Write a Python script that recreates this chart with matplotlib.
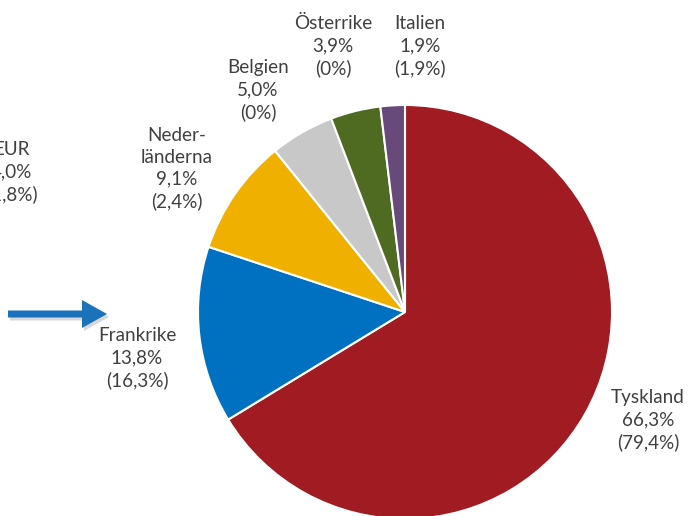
import matplotlib
matplotlib.use("Agg")
import matplotlib.pyplot as plt
from matplotlib.patches import FancyArrow

# data
countries = ['Tyskland', 'Frankrike', 'Neder-\nländerna', 'Belgien', 'Österrike', 'Italien']
shares = [66.3, 13.8, 9.1, 5.0, 3.9, 1.9]
shares_2 = ['79,4%', '16,3%', '2,4%', '0%', '0%', '1,9%']
colors = ['#A01C22', '#0070C0', '#F0B000', '#C8C8C8', '#4F6B22', '#67497A']

# label centres in pixel coords (x, y from top)
label_pos = [(648, 420), (137, 358), (177, 169), (258, 90), (333, 46), (420, 46)]

W, H = 694, 516
fig = plt.figure(figsize=(W / 100, H / 100), dpi=100)
ax = fig.add_axes([0, 0, 1, 1])
ax.set_xlim(0, W)
ax.set_ylim(0, H)
ax.set_aspect('equal')
ax.axis('off')

ax.pie(shares, colors=colors, startangle=90, counterclock=False,
       center=(405, H - 312), radius=207,
       wedgeprops=dict(edgecolor='white', linewidth=1.5))
ax.set_xlim(0, W)
ax.set_ylim(0, H)

fs = 13.6
for name, v, v2, (x, y) in zip(countries, shares, shares_2, label_pos):
    txt = f"{name}\n{v:.1f}%\n({v2})".replace('.', ',')
    ax.text(x, H - y, txt, ha='center', va='center', fontsize=fs,
            family='Lato', color='#404040', linespacing=1.33)

# label cut off at the left edge (as in the original)
ax.text(12, H - 172, "EUR\n4,0%\n(1,8%)", ha='center', va='center', fontsize=fs,
        family='Lato', color='#404040', linespacing=1.33)

# blue arrow pointing at Frankrike
ax.add_patch(FancyArrow(10, H - 317, 99, 0, width=7, head_width=28, head_length=25,
                        length_includes_head=True, color='#909090', alpha=0.35, lw=0))
ax.add_patch(FancyArrow(8, H - 314, 99, 0, width=7, head_width=28, head_length=25,
                        length_includes_head=True, color='#1A72BB', lw=0))

fig.savefig('out.png', dpi=100, facecolor='white')
